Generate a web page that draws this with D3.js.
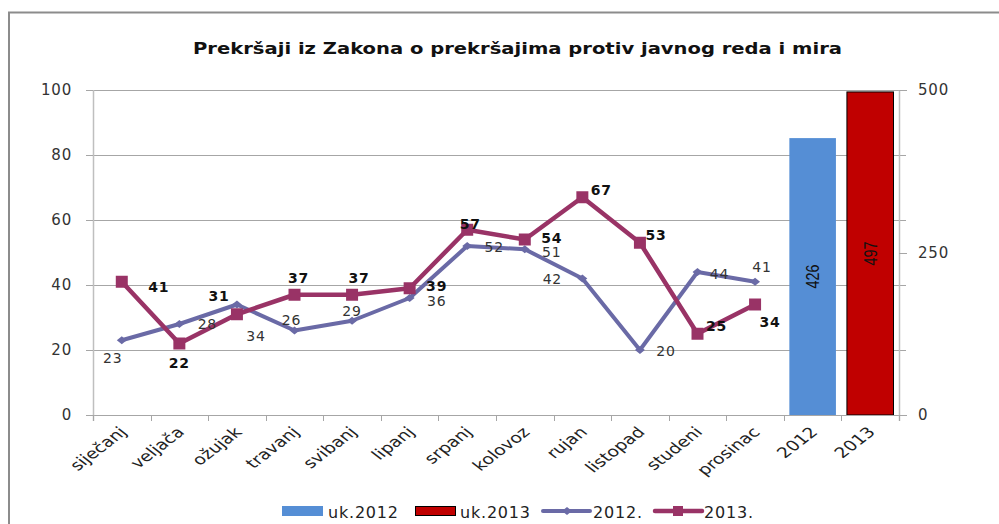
<!DOCTYPE html>
<html><head><meta charset="utf-8">
<script src="https://cdn.jsdelivr.net/npm/d3@7"></script>
<style>body{margin:0;background:#fff}svg{display:block}</style>
</head><body><svg id="c" width="999" height="524"></svg>
<script>
const title = "Prekršaji iz Zakona o prekršajima protiv javnog reda i mira";
const categories = ["siječanj","veljača","ožujak","travanj","svibanj","lipanj","srpanj","kolovoz","rujan","listopad","studeni","prosinac","2012","2013"];
const months = categories.slice(0, 12);
const values2012 = [23,28,34,26,29,36,52,51,42,20,44,41];
const values2013 = [41,22,31,37,37,39,57,54,67,53,25,34];
const totalCategories = ["2012","2013"];
const totals = [426,497];
const leftTicks = [0,20,40,60,80,100];
const rightTicks = [0,250,500];
const legendLabels = ["uk.2012","uk.2013","2012.","2013."];
// label placement offsets (as placed in the original chart)
const labelOffset2012 = [[-9,18],[28,0],[19,31],[-3,-11],[0,-10],[27,3],[27,1],[27,3],[-30,0],[26,1],[22,2],[7,-15]];
const labelOffset2013 = [[37,5],[0,19],[-18,-18],[4,-17],[7,-17],[27,-2],[3,-6],[27,-2],[19,-7],[16,-8],[19,-8],[15,17]];

const C2012 = "#6a6aa6", C2013 = "#993366", BAR2012 = "#558ed5", BAR2013 = "#c00000";
const svg = d3.select("#c");
const L = 93, R = 899, T = 90, B = 415;
const x = d3.scaleBand().domain(categories).range([L, R]).padding(0);
const y = d3.scaleLinear().domain([0, 100]).range([B, T]);
const y2 = d3.scaleLinear().domain([0, 500]).range([B, T]);
const cx = d => x(d) + x.bandwidth() / 2;

// outer border
svg.append("rect").attr("x", 9).attr("y", 12.5).attr("width", 1100).attr("height", 600)
  .attr("fill", "#fff").attr("stroke", "#8c8c8c").attr("stroke-width", 2);

// title
svg.append("text").attr("x", 517.5).attr("y", 54).attr("text-anchor", "middle")
  .attr("font-family", "DejaVu Sans, Verdana, sans-serif").attr("font-weight", "bold")
  .attr("font-size", 16.5).attr("fill", "#111")
  .attr("textLength", 649).attr("lengthAdjust", "spacingAndGlyphs").text(title);

// gridlines
svg.append("g").selectAll("line").data(leftTicks.filter(d => d > 0)).join("line")
  .attr("x1", L - 7).attr("x2", R + 7).attr("y1", d => Math.round(y(d)) + 0.5).attr("y2", d => Math.round(y(d)) + 0.5)
  .attr("stroke", "#a6a6a6").attr("stroke-width", 1);

// bars (secondary axis)
svg.append("g").selectAll("rect").data(totals).join("rect")
  .attr("x", (d, i) => x(totalCategories[i]) + 5.5)
  .attr("width", x.bandwidth() - 11)
  .attr("y", d => y2(d)).attr("height", d => B - y2(d))
  .attr("fill", (d, i) => i === 0 ? BAR2012 : BAR2013)
  .attr("stroke", (d, i) => i === 0 ? "none" : "#000").attr("stroke-width", 1);
svg.append("g").selectAll("text").data(totals).join("text")
  .attr("transform", (d, i) => `translate(${cx(totalCategories[i])},${(y2(d) + B) / 2}) rotate(-90) scale(0.8,1)`)
  .attr("text-anchor", "middle").attr("dy", "0.36em")
  .attr("font-family", "Liberation Sans, Arial, sans-serif")
  .attr("font-size", 18).attr("fill", "#111")
  .text(d => d);

// axes lines
svg.append("line").attr("x1", L - 7).attr("x2", R + 7).attr("y1", B + 0.5).attr("y2", B + 0.5).attr("stroke", "#a6a6a6");
svg.append("line").attr("x1", L + 0.5).attr("x2", L + 0.5).attr("y1", T).attr("y2", B + 6).attr("stroke", "#bfbfbf").attr("stroke-width", 1.5);
svg.append("line").attr("x1", R + 0.5).attr("x2", R + 0.5).attr("y1", T).attr("y2", B + 6).attr("stroke", "#bfbfbf").attr("stroke-width", 1.5);
// x ticks at category boundaries
svg.append("g").selectAll("line").data(categories.concat([null])).join("line")
  .attr("x1", (d, i) => Math.round(L + i * x.bandwidth()) + 0.5).attr("x2", (d, i) => Math.round(L + i * x.bandwidth()) + 0.5)
  .attr("y1", B).attr("y2", B + 6).attr("stroke", "#a6a6a6");
// left ticks
svg.append("g").selectAll("line").data(leftTicks).join("line")
  .attr("x1", L - 7).attr("x2", L).attr("y1", d => Math.round(y(d)) + 0.5).attr("y2", d => Math.round(y(d)) + 0.5).attr("stroke", "#a6a6a6");
svg.append("g").selectAll("line").data(rightTicks).join("line")
  .attr("x1", R).attr("x2", R + 8).attr("y1", d => Math.round(y2(d)) + 0.5).attr("y2", d => Math.round(y2(d)) + 0.5).attr("stroke", "#a6a6a6");

const tickFont = "DejaVu Sans, Verdana, sans-serif";
svg.append("g").selectAll("text").data(leftTicks).join("text")
  .attr("x", 72).attr("y", d => y(d)).attr("dy", "0.36em").attr("text-anchor", "end")
  .attr("font-family", tickFont).attr("font-size", 15).attr("letter-spacing", 0.8).attr("fill", "#333").text(d => d);
svg.append("g").selectAll("text").data(rightTicks).join("text")
  .attr("x", 918).attr("y", d => y2(d)).attr("dy", "0.36em").attr("text-anchor", "start")
  .attr("font-family", tickFont).attr("font-size", 15).attr("letter-spacing", 0.8).attr("fill", "#333").text(d => d);

// x labels
svg.append("g").selectAll("text").data(categories).join("text")
  .attr("transform", d => `translate(${cx(d) + 6},${B + 18}) scale(1.3,1) rotate(-45)`)
  .attr("text-anchor", "end")
  .attr("font-family", tickFont).attr("font-size", 14.5).attr("fill", "#222").text(d => d);

// lines
const line = d3.line().x((d, i) => cx(months[i])).y(d => y(d));
svg.append("path").datum(values2012).attr("d", line).attr("fill", "none")
  .attr("stroke", C2012).attr("stroke-width", 4).attr("stroke-linejoin", "round");
svg.append("path").datum(values2013).attr("d", line).attr("fill", "none")
  .attr("stroke", C2013).attr("stroke-width", 4.5).attr("stroke-linejoin", "round");

const diamond = { draw(ctx, size) { const r = Math.sqrt(size); const w = r * 0.62, h = r * 0.5;
  ctx.moveTo(0, -h); ctx.lineTo(w, 0); ctx.lineTo(0, h); ctx.lineTo(-w, 0); ctx.closePath(); } };
svg.append("g").selectAll("path").data(values2012).join("path")
  .attr("transform", (d, i) => `translate(${cx(months[i])},${y(d)})`)
  .attr("d", d3.symbol().type(diamond).size(64)).attr("fill", C2012);
svg.append("g").selectAll("path").data(values2013).join("path")
  .attr("transform", (d, i) => `translate(${cx(months[i])},${y(d)})`)
  .attr("d", d3.symbol().type(d3.symbolSquare).size(144)).attr("fill", C2013);

// data labels
svg.append("g").selectAll("text").data(values2012).join("text")
  .attr("x", (d, i) => cx(months[i]) + labelOffset2012[i][0])
  .attr("y", (d, i) => y(d) + labelOffset2012[i][1]).attr("dy", "0.36em")
  .attr("text-anchor", "middle").attr("font-family", tickFont).attr("font-size", 14)
  .attr("letter-spacing", 0.8).attr("fill", "#333").text(d => d);
svg.append("g").selectAll("text").data(values2013).join("text")
  .attr("x", (d, i) => cx(months[i]) + labelOffset2013[i][0])
  .attr("y", (d, i) => y(d) + labelOffset2013[i][1]).attr("dy", "0.36em")
  .attr("text-anchor", "middle").attr("font-family", tickFont).attr("font-weight", "bold").attr("font-size", 14)
  .attr("letter-spacing", 0.8).attr("fill", "#111").text(d => d);

// legend
const lg = svg.append("g").attr("font-family", tickFont).attr("font-size", 16).attr("fill", "#222");
lg.append("rect").attr("x", 282).attr("y", 506).attr("width", 41).attr("height", 10).attr("fill", BAR2012);
lg.append("text").attr("x", 328).attr("y", 518).attr("letter-spacing", 0.8).text(legendLabels[0]);
lg.append("rect").attr("x", 415.5).attr("y", 506.5).attr("width", 40).attr("height", 9).attr("fill", BAR2013).attr("stroke", "#000");
lg.append("text").attr("x", 460).attr("y", 518).attr("letter-spacing", 0.8).text(legendLabels[1]);
lg.append("line").attr("x1", 543).attr("x2", 590).attr("y1", 511).attr("y2", 511).attr("stroke", C2012).attr("stroke-width", 4).attr("stroke-linecap", "round");
lg.append("path").attr("transform", "translate(567,511)").attr("d", d3.symbol().type(diamond).size(64)).attr("fill", C2012);
lg.append("text").attr("x", 593).attr("y", 518).attr("letter-spacing", 0.8).text(legendLabels[2]);
lg.append("line").attr("x1", 655).attr("x2", 702).attr("y1", 511).attr("y2", 511).attr("stroke", C2013).attr("stroke-width", 4.5).attr("stroke-linecap", "round");
lg.append("path").attr("transform", "translate(678,511)").attr("d", d3.symbol().type(d3.symbolSquare).size(100)).attr("fill", C2013);
lg.append("text").attr("x", 704).attr("y", 518).attr("letter-spacing", 0.8).text(legendLabels[3]);
</script></body></html>
